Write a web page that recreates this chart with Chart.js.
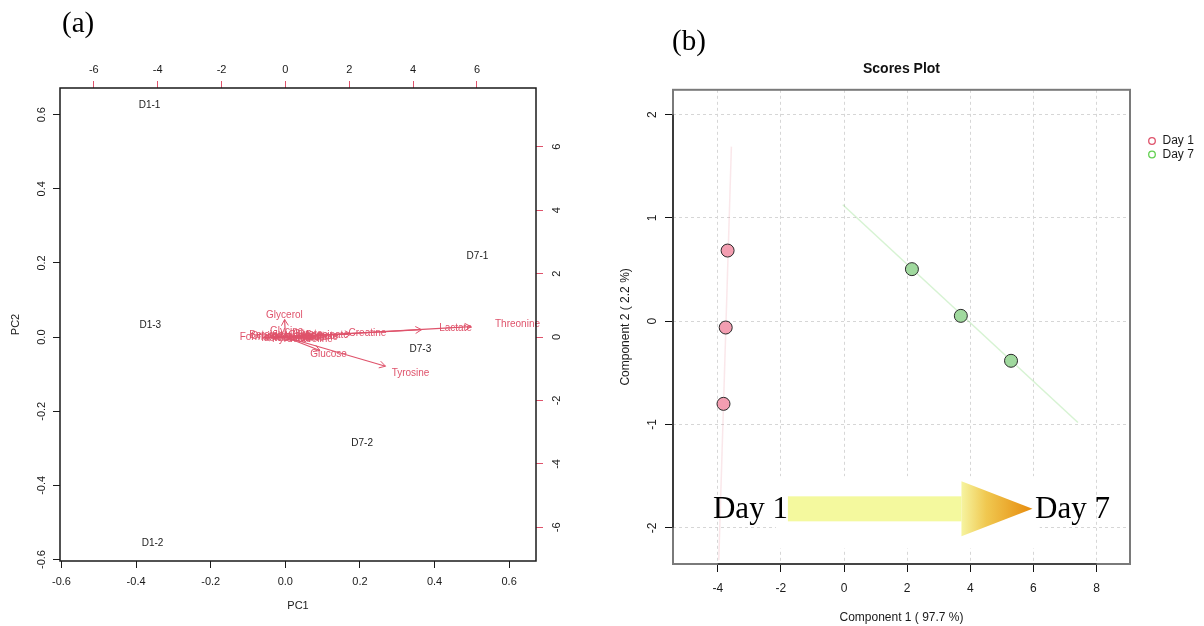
<!DOCTYPE html>
<html>
<head>
<meta charset="utf-8">
<script src="https://cdn.jsdelivr.net/npm/chart.js@4.4.1/dist/chart.umd.min.js"></script>
<style>
  body { margin: 0; background: #fff; width: 1204px; height: 626px; position: relative; overflow: hidden; }
  #wa { position: absolute; left: 0; top: 0; width: 600px; height: 626px; }
  #wb { position: absolute; left: 600px; top: 0; width: 604px; height: 626px; }
  .tag { position: absolute; font-family: "Liberation Serif", "Times New Roman", serif; font-size: 29px; line-height: 29px; color: #000; }
</style>
</head>
<body>
<div id="wa"><canvas id="biplot" width="600" height="626"></canvas></div>
<div id="wb"><canvas id="scores" width="604" height="626"></canvas></div>
<div class="tag" style="left:62px;top:8px">(a)</div>
<div class="tag" style="left:672px;top:26px">(b)</div>
<script>
// ---- (a) PCA biplot ----
const sampleNames = ['D1-1', 'D1-2', 'D1-3', 'D7-1', 'D7-2', 'D7-3'];
const samplePC1 = [-0.364, -0.356, -0.362, 0.515, 0.206, 0.362];
const samplePC2 = [0.625, -0.557, 0.031, 0.218, -0.287, -0.033];

const varNames = ['Threonine', 'Lactate', 'Tyrosine', 'Creatine', 'Glucose', 'Glycerol',
  'Glycine', 'Ornithine', 'Isoleucine', 'Alanine', 'Methionine', 'Choline', 'Acetate',
  'Valine', 'Leucine', 'Betaine', 'Citrate', 'Formate', 'Succinate', 'Pyruvate', 'Proline'];
const varX = [7.27, 5.33, 3.92, 2.57, 1.35, -0.03, 0.04, -0.45, -0.05, 0.30, 0.45, 0.62, 1.13,
  0.90, 1.10, -0.60, 0.70, -0.85, 1.30, 0.20, 1.00];
const varY = [0.41, 0.29, -1.15, 0.12, -0.53, 0.69, 0.19, 0.02, -0.05, 0.03, -0.04, 0.05, 0.04,
  0.00, -0.02, 0.05, 0.08, -0.02, 0.06, -0.08, -0.06];

const pcTicks = [-0.6, -0.4, -0.2, 0, 0.2, 0.4, 0.6];
const loadTicks = [-6, -4, -2, 0, 2, 4, 6];

// ---- (b) Scores plot ----
const day1X = [-3.69, -3.75, -3.82];
const day1Y = [0.684, -0.061, -0.80];
const day7X = [2.15, 3.70, 5.29];
const day7Y = [0.504, 0.052, -0.383];
const day1Band = [[-3.57, 1.69], [-3.97, -2.31]];
const day7Band = [[-0.04, 1.127], [7.41, -0.98]];
const compXTicks = [-4, -2, 0, 2, 4, 6, 8];
const compYTicks = [-2, -1, 0, 1, 2];

const RED = '#DF536B';
const GREEN = '#61D04F';
const SANS = '"Liberation Sans", Arial, Helvetica, sans-serif';
const SERIF = '"Liberation Serif", "Times New Roman", serif';

const setTicks = arr => scale => { scale.ticks = arr.map(v => ({ value: v })); };

const biplotMarks = {
  id: 'biplotMarks',
  afterDatasetsDraw(chart) {
    const { ctx, chartArea: a, scales } = chart;
    ctx.save();
    ctx.font = '10px ' + SANS;
    ctx.textAlign = 'center';
    ctx.textBaseline = 'middle';
    ctx.fillStyle = '#1a1a1a';
    chart.getDatasetMeta(0).data.forEach((pt, i) => ctx.fillText(sampleNames[i], pt.x, pt.y));

    ctx.strokeStyle = RED;
    ctx.fillStyle = RED;
    ctx.lineWidth = 1;
    varNames.forEach((name, i) => {
      const pts = chart.getDatasetMeta(i + 1).data;
      const p0 = pts[0], p1 = pts[1];
      const ang = Math.atan2(p1.y - p0.y, p1.x - p0.x);
      const len = 7;
      ctx.beginPath();
      ctx.moveTo(p1.x - len * Math.cos(ang - Math.PI / 6), p1.y - len * Math.sin(ang - Math.PI / 6));
      ctx.lineTo(p1.x, p1.y);
      ctx.lineTo(p1.x - len * Math.cos(ang + Math.PI / 6), p1.y - len * Math.sin(ang + Math.PI / 6));
      ctx.stroke();
      ctx.fillText(name, scales.x2.getPixelForValue(varX[i]), scales.y2.getPixelForValue(varY[i]));
    });

    ctx.strokeStyle = '#1a1a1a';
    ctx.lineWidth = 1.5;
    ctx.strokeRect(a.left, a.top, a.right - a.left, a.bottom - a.top);
    ctx.restore();
  }
};

const arrowDatasets = varNames.map((n, i) => ({
  label: n,
  data: [{ x: 0, y: 0 }, { x: varX[i] * 0.8, y: varY[i] * 0.8 }],
  xAxisID: 'x2',
  yAxisID: 'y2',
  showLine: true,
  borderColor: RED,
  borderWidth: 1.2,
  pointRadius: 0
}));

function pcAxis(position, size, tickArr, fmt, tickColor, pad, extra) {
  const horizontal = position === 'top' || position === 'bottom';
  return Object.assign({
    type: 'linear',
    position: position,
    min: position === 'top' || position === 'right' ? -7.06 : -0.604,
    max: position === 'top' || position === 'right' ? 7.85 : 0.672,
    afterBuildTicks: setTicks(tickArr),
    afterFit: s => { if (horizontal) s.height = size; else s.width = size; },
    border: { display: false },
    grid: { drawOnChartArea: false, tickLength: 7, color: tickColor, tickWidth: 1 },
    ticks: {
      autoSkip: false,
      padding: pad,
      color: '#1a1a1a',
      font: { family: SANS, size: 11 },
      minRotation: horizontal ? 0 : 90,
      maxRotation: horizontal ? 0 : 90,
      crossAlign: horizontal ? 'near' : 'center',
      callback: fmt
    }
  }, extra || {});
}

new Chart(document.getElementById('biplot'), {
  type: 'scatter',
  data: {
    datasets: [{
      label: 'samples',
      data: samplePC1.map((v, i) => ({ x: v, y: samplePC2[i] })),
      pointRadius: 0
    }].concat(arrowDatasets)
  },
  options: {
    responsive: false,
    animation: false,
    events: [],
    layout: { padding: 0 },
    plugins: { legend: { display: false }, tooltip: { enabled: false } },
    scales: {
      x: pcAxis('bottom', 65, pcTicks, v => v.toFixed(1), '#1a1a1a', 7, {
        title: { display: true, text: 'PC1', color: '#1a1a1a', font: { family: SANS, size: 11 }, padding: { top: 0, bottom: 13 } }
      }),
      y: pcAxis('left', 60, pcTicks, v => v.toFixed(1), '#1a1a1a', 2, {
        title: { display: true, text: 'PC2', color: '#1a1a1a', font: { family: SANS, size: 11 }, padding: { top: 9, bottom: 0 } }
      }),
      x2: pcAxis('top', 88, loadTicks, v => String(v), RED, 4),
      y2: pcAxis('right', 64, loadTicks, v => String(v), RED, 9)
    }
  },
  plugins: [biplotMarks]
});

// ---- scores plot ----
const dayArrow = { x0: -1.78, xb: 3.72, xt: 5.97, y: -1.816, bodyH: 0.121, headH: 0.266 };

const scoresDecor = {
  id: 'scoresDecor',
  beforeDatasetsDraw(chart) {
    const { ctx, scales: { x, y } } = chart;
    ctx.save();
    ctx.fillStyle = '#fff';
    const l = x.getPixelForValue(-2.16), r = x.getPixelForValue(6.2);
    const t = y.getPixelForValue(-1.5), b = y.getPixelForValue(-2.2);
    ctx.fillRect(l, t, r - l, b - t);
    ctx.restore();
  },
  afterDatasetsDraw(chart) {
    const { ctx, chartArea: a, scales: { x, y } } = chart;
    ctx.save();
    // Day 1 -> Day 7 arrow
    const x0 = x.getPixelForValue(dayArrow.x0), xb = x.getPixelForValue(dayArrow.xb), xt = x.getPixelForValue(dayArrow.xt);
    const yc = y.getPixelForValue(dayArrow.y);
    const bh = y.getPixelForValue(dayArrow.y - dayArrow.bodyH) - yc;
    const hh = y.getPixelForValue(dayArrow.y - dayArrow.headH) - yc;
    ctx.fillStyle = '#F4F99E';
    ctx.fillRect(x0, yc - bh, xb - x0, 2 * bh);
    const g = ctx.createLinearGradient(xb, 0, xt, 0);
    g.addColorStop(0, '#F6F4A0');
    g.addColorStop(0.35, '#F0C850');
    g.addColorStop(1, '#E68A0C');
    ctx.fillStyle = g;
    ctx.beginPath();
    ctx.moveTo(xb, yc - hh);
    ctx.lineTo(xt, yc);
    ctx.lineTo(xb, yc + hh);
    ctx.closePath();
    ctx.fill();
    ctx.fillStyle = '#000';
    ctx.font = '31px ' + SERIF;
    ctx.textBaseline = 'alphabetic';
    const base = y.getPixelForValue(-1.90);
    ctx.textAlign = 'right';
    ctx.fillText('Day 1', x0, base);
    ctx.textAlign = 'left';
    ctx.fillText('Day 7', x.getPixelForValue(6.05), base);

    // legend
    ctx.font = '12px ' + SANS;
    ctx.textBaseline = 'middle';
    [0, 1].forEach(i => {
      const ds = chart.data.datasets[i];
      const ly = 141 + i * 13.5;
      ctx.strokeStyle = ds.legendColor;
      ctx.lineWidth = 1.3;
      ctx.beginPath();
      ctx.arc(a.right + 22, ly, 3.3, 0, Math.PI * 2);
      ctx.stroke();
      ctx.fillStyle = '#1a1a1a';
      ctx.fillText(ds.label, a.right + 32.5, ly);
    });
    ctx.restore();
  },
  afterDraw(chart) {
    const { ctx, chartArea: a, scales: { x, y } } = chart;
    ctx.save();
    ctx.strokeStyle = '#7a7a7a';
    ctx.lineWidth = 2;
    ctx.strokeRect(a.left, a.top, a.right - a.left, a.bottom - a.top);
    ctx.strokeStyle = '#111';
    ctx.lineWidth = 1.2;
    ctx.beginPath();
    ctx.moveTo(x.getPixelForValue(compXTicks[0]), a.bottom);
    ctx.lineTo(x.getPixelForValue(compXTicks[compXTicks.length - 1]), a.bottom);
    ctx.moveTo(a.left, y.getPixelForValue(compYTicks[0]));
    ctx.lineTo(a.left, y.getPixelForValue(compYTicks[compYTicks.length - 1]));
    ctx.stroke();
    ctx.restore();
  }
};

function compAxis(position, size, tickArr, pad, titleText, titlePad) {
  const horizontal = position === 'bottom';
  return {
    type: 'linear',
    position: position,
    min: horizontal ? -5.42 : -2.35,
    max: horizontal ? 9.06 : 2.24,
    afterBuildTicks: setTicks(tickArr),
    afterFit: s => { if (horizontal) s.height = size; else s.width = size; },
    border: { display: false, dash: [3, 3] },
    grid: { drawOnChartArea: true, color: '#d6d6d6', lineWidth: 1, tickLength: 8, tickColor: '#111' },
    ticks: {
      autoSkip: false,
      padding: pad,
      color: '#1a1a1a',
      font: { family: SANS, size: 12 },
      minRotation: horizontal ? 0 : 90,
      maxRotation: horizontal ? 0 : 90,
      crossAlign: horizontal ? 'near' : 'center',
      callback: v => String(v)
    },
    title: { display: true, text: titleText, color: '#1a1a1a', font: { family: SANS, size: 12 }, padding: titlePad }
  };
}

new Chart(document.getElementById('scores'), {
  type: 'scatter',
  data: {
    datasets: [
      {
        label: 'Day 1',
        legendColor: RED,
        data: day1X.map((v, i) => ({ x: v, y: day1Y[i] })),
        backgroundColor: 'rgb(243,158,177)',
        borderColor: '#2a2a2a',
        borderWidth: 1,
        pointRadius: 6.5
      },
      {
        label: 'Day 7',
        legendColor: GREEN,
        data: day7X.map((v, i) => ({ x: v, y: day7Y[i] })),
        backgroundColor: 'rgb(160,217,158)',
        borderColor: '#2a2a2a',
        borderWidth: 1,
        pointRadius: 6.5
      },
      {
        label: 'Day 1 region',
        data: day1Band.map(p => ({ x: p[0], y: p[1] })),
        showLine: true,
        borderColor: 'rgba(223,83,107,0.14)',
        borderWidth: 1.5,
        pointRadius: 0
      },
      {
        label: 'Day 7 region',
        data: day7Band.map(p => ({ x: p[0], y: p[1] })),
        showLine: true,
        borderColor: 'rgba(97,208,79,0.25)',
        borderWidth: 1.5,
        pointRadius: 0
      }
    ]
  },
  options: {
    responsive: false,
    animation: false,
    events: [],
    layout: { padding: { top: 61, right: 74, left: 0, bottom: 0 } },
    plugins: {
      legend: { display: false },
      tooltip: { enabled: false },
      title: {
        display: true,
        text: 'Scores Plot',
        fullSize: false,
        color: '#111',
        font: { family: SANS, size: 14, weight: 'bold' },
        padding: { top: 0, bottom: 12 }
      }
    },
    scales: {
      x: compAxis('bottom', 62, compXTicks, 9, 'Component 1 ( 97.7 %)', { top: 0, bottom: 1 }),
      y: compAxis('left', 73, compYTicks, 7, 'Component 2 ( 2.2 %)', { top: 18, bottom: 0 })
    }
  },
  plugins: [scoresDecor]
});
</script>
</body>
</html>
